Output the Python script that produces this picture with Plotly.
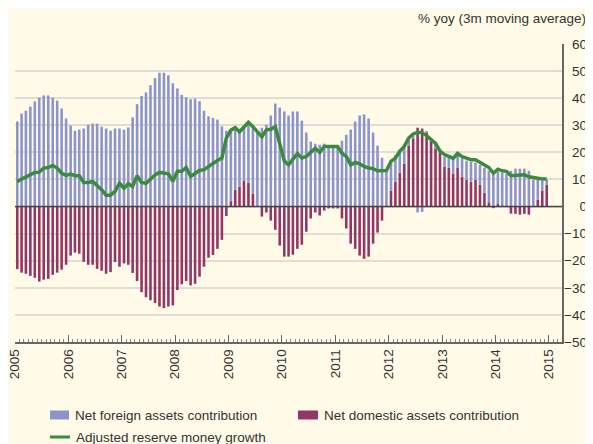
import pandas as pd
import plotly.graph_objects as go

# ---- data (monthly, Jan 2005 - Dec 2014) ----
months = pd.date_range("2005-01-01", "2014-12-01", freq="MS")

net_foreign_assets = [
    31.4, 34.3, 35.4, 36.9, 38.8, 40.2, 41.0, 41.0, 40.2, 39.1, 36.2, 32.5,
    29.9, 28.0, 28.4, 28.8, 30.2, 30.6, 30.6, 29.5, 28.8, 28.0, 28.8, 28.8,
    28.4, 29.2, 32.9, 37.8, 40.8, 42.1, 44.8, 47.4, 49.4, 49.4, 48.5, 45.5,
    43.6, 41.2, 40.3, 39.6, 39.8, 38.9, 35.4, 33.3, 32.7, 32.1, 29.6, 28.0,
    26.0, 23.3, 21.2, 20.5, 22.2, 24.8, 27.5, 29.1, 30.2, 33.6, 38.0, 36.5,
    35.1, 33.6, 35.1, 35.1, 31.7, 27.3, 24.0, 23.2, 22.8, 23.2, 22.2, 22.2,
    22.2, 24.3, 26.5, 28.4, 31.4, 33.6, 34.0, 32.5, 27.3, 22.5, 18.0, 13.3,
    11.2, 9.9, 8.5, 6.2, 2.0, 1.3, -2.2, -2.0, 0.5, 0.5, 1.4, 0.6,
    3.8, 4.2, 5.8, 4.5, 6.7, 7.0, 7.4, 6.3, 7.4, 9.2, 11.6, 11.7,
    11.8, 12.5, 12.1, 13.2, 14.0, 14.0, 14.0, 13.2, 9.9, 7.4, 3.7, 1.9,
]

net_domestic_assets = [
    -23.1, -24.4, -24.8, -25.6, -26.3, -27.7, -27.0, -26.7, -25.2, -24.4, -23.3, -21.5,
    -18.1, -17.0, -17.4, -20.4, -21.5, -21.5, -23.0, -23.7, -24.8, -24.2, -20.5, -22.2,
    -21.0, -21.5, -24.5, -27.5, -31.6, -33.5, -34.6, -35.6, -36.9, -37.5, -36.9, -36.5,
    -30.8, -28.7, -27.5, -29.1, -28.5, -25.9, -22.2, -18.9, -17.9, -15.6, -12.3, -3.5,
    2.0, 6.2, 7.3, 9.5, 8.8, 4.7, 0.0, -3.7, -2.2, -5.2, -8.6, -14.4,
    -18.5, -18.5, -17.8, -15.6, -14.1, -9.3, -4.4, -2.2, -3.3, -1.5, -0.7, -0.7,
    -0.7, -4.4, -8.1, -13.7, -15.6, -18.1, -19.3, -18.5, -13.7, -9.6, -5.2, 0.0,
    5.8, 9.1, 12.5, 15.8, 22.5, 25.2, 29.1, 28.8, 27.3, 24.0, 21.4, 19.9,
    14.7, 14.3, 12.2, 14.3, 11.0, 9.9, 9.1, 9.9, 8.0, 5.1, 1.6, -0.6,
    1.0, 0.0, 0.0, -2.6, -2.7, -3.0, -2.7, -3.0, 0.0, 2.5, 5.8, 8.0,
]

reserve_money_growth = [
    9.3, 10.1, 11.1, 12.0, 12.6, 12.7, 14.2, 14.4, 15.2, 14.2, 12.3, 11.5,
    12.0, 11.4, 11.4, 8.9, 8.9, 9.3, 7.8, 6.2, 4.2, 4.2, 5.6, 8.6,
    6.8, 8.4, 7.4, 11.4, 8.9, 8.6, 10.1, 11.7, 12.6, 12.3, 12.1, 9.3,
    13.0, 13.0, 14.4, 11.1, 12.3, 13.3, 13.6, 14.8, 15.8, 17.0, 17.9, 25.3,
    28.2, 29.1, 27.6, 29.5, 31.1, 29.5, 27.6, 25.7, 28.3, 28.5, 29.5, 22.5,
    16.8, 15.4, 17.3, 19.5, 17.9, 18.5, 20.0, 21.5, 20.0, 22.2, 22.2, 22.2,
    22.2, 19.7, 18.5, 15.4, 16.3, 15.8, 14.8, 14.2, 14.0, 13.2, 13.2, 13.3,
    16.7, 17.9, 20.4, 22.2, 25.3, 26.8, 27.4, 27.2, 26.2, 24.9, 23.3, 20.5,
    19.2, 18.5, 17.8, 19.6, 18.4, 17.9, 17.3, 17.3, 16.3, 15.1, 14.4, 12.3,
    13.8, 13.2, 13.0, 11.4, 11.6, 11.6, 11.7, 11.0, 10.7, 10.5, 10.2, 10.2,
]

y_ticks = [-50, -40, -30, -20, -10, 0, 10, 20, 30, 40, 50, 60]
grid_values = [-40, -30, -20, -10, 0, 10, 20, 30, 40, 50]

series_names = ["Net foreign assets contribution",
                "Net domestic assets contribution",
                "Adjusted reserve money growth"]
unit_label = "% yoy (3m moving average)"

# ---- styling ----
BG = "#fffbe8"
BLUE = "#8b94cc"
MAROON = "#933565"
GREEN = "#3b8a3f"
TXT = "#333333"
FONT = "Liberation Sans, Arial, sans-serif"
FS = 13.5

# the page body has an 8px default margin; compensate so the picture
# lands at the intended window pixels
OFF = 8
W, H = 593 - OFF, 444 - OFF
PLOT_L, PLOT_R, PLOT_T, PLOT_B = 15, 562, 44, 342   # window pixels
ML = PLOT_L - OFF
MT = PLOT_T - OFF
MB = (444 - OFF) - (PLOT_B - OFF)
MR = 0
PW = W - ML - MR
PH = H - MT - MB
x_dom_end = (PLOT_R - PLOT_L) / PW


def px_x(p):
    return (p - PLOT_L) / PW


def px_y(p):
    return (PLOT_B - p) / PH


fig = go.Figure()

fig.add_trace(go.Bar(
    x=months, y=net_domestic_assets, name=series_names[1],
    marker=dict(color=MAROON, line=dict(width=0)),
    xperiod="M1", xperiodalignment="middle", showlegend=False,
))
fig.add_trace(go.Bar(
    x=months, y=net_foreign_assets, name=series_names[0],
    marker=dict(color=BLUE, line=dict(width=0)),
    xperiod="M1", xperiodalignment="middle", showlegend=False,
))
fig.add_trace(go.Scatter(
    x=months, y=reserve_money_growth, name=series_names[2],
    mode="lines", line=dict(color=GREEN, width=3.5),
    xperiod="M1", xperiodalignment="middle", showlegend=False,
    yaxis="y2",
))

fig.update_layout(
    width=W, height=H,
    margin=dict(l=ML, r=MR, t=MT, b=MB, autoexpand=False),
    paper_bgcolor=BG, plot_bgcolor=BG,
    barmode="relative", bargap=0.4,
    font=dict(family=FONT, size=FS, color=TXT),
    xaxis=dict(
        type="date", domain=[0, x_dom_end],
        range=["2005-01-01", "2015-03-31"],
        tick0="2005-01-01", dtick="M12", tickformat="%Y",
        tickangle=-90, ticks="inside", ticklen=7, tickcolor="#666666",
        tickwidth=1, ticklabeloverflow="allow",
        minor=dict(dtick="M1", ticks="inside", ticklen=3,
                   tickcolor="#888888", tickwidth=1, showgrid=False),
        showline=True, linecolor="#666666", linewidth=1.5,
        showgrid=False, zeroline=False,
        tickfont=dict(family=FONT, size=FS, color=TXT),
    ),
    yaxis=dict(
        range=[-50, 60], side="right",
        tickmode="array", tickvals=grid_values,
        showticklabels=False, ticks="",
        showgrid=True, gridcolor="#dfddd6", gridwidth=2,
        showline=True, linecolor="#666666", linewidth=1.5,
        zeroline=False,
    ),
    yaxis2=dict(
        range=[-50, 60], overlaying="y", side="left",
        anchor="free", position=px_x(587),
        tickmode="array", tickvals=y_ticks,
        ticks="", showgrid=False, showline=False, zeroline=False,
        ticklabeloverflow="allow",
        tickfont=dict(family=FONT, size=FS, color=TXT),
    ),
)

# zero line above the bars
fig.add_shape(type="line", xref="paper", yref="y", x0=0, x1=x_dom_end,
              y0=0, y1=0, line=dict(color="#444444", width=1.5), layer="above")

# unit label
fig.add_annotation(text=unit_label, xref="paper", yref="paper",
                   x=px_x(588), y=px_y(18), xanchor="right", yanchor="middle",
                   showarrow=False, font=dict(family=FONT, size=FS, color=TXT))

# manual legend
legend_items = [
    ("rect", BLUE, series_names[0], 50, 69, 415),
    ("rect", MAROON, series_names[1], 298, 318, 415),
    ("line", GREEN, series_names[2], 50, 70, 437),
]
for kind, col, label, xa, xb, yc in legend_items:
    if kind == "rect":
        fig.add_shape(type="rect", xref="paper", yref="paper",
                      x0=px_x(xa), x1=px_x(xb), y0=px_y(yc + 4.5), y1=px_y(yc - 4.5),
                      fillcolor=col, line=dict(width=0))
    else:
        fig.add_shape(type="line", xref="paper", yref="paper",
                      x0=px_x(xa), x1=px_x(xb), y0=px_y(yc), y1=px_y(yc),
                      line=dict(color=col, width=3))
    fig.add_annotation(text=label, xref="paper", yref="paper",
                       x=px_x(xb + 4), y=px_y(yc), xanchor="left", yanchor="middle",
                       showarrow=False, font=dict(family=FONT, size=FS, color=TXT))

fig.write_html("out.html")
